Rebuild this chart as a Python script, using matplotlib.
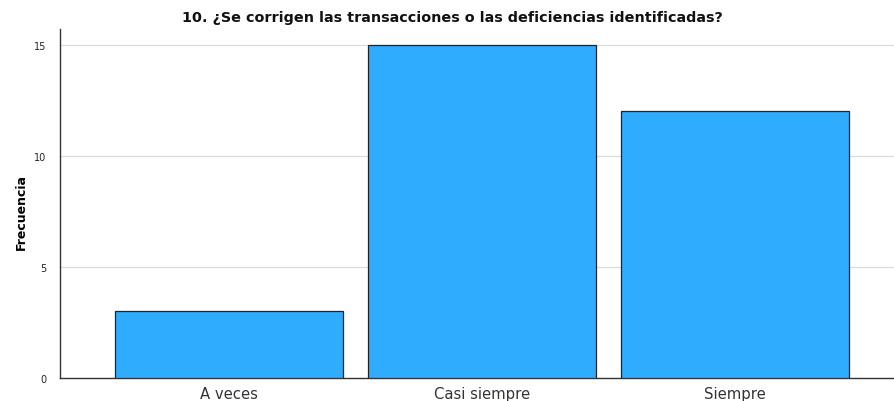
import matplotlib
matplotlib.use('Agg')
import matplotlib.pyplot as plt

# data
categories = ['A veces', 'Casi siempre', 'Siempre']
frecuencia = [3, 15, 12]
yticks = [0, 5, 10, 15]

fig = plt.figure(figsize=(8.95, 4.02), dpi=100, facecolor='white')
ax = fig.add_axes([0.067, 0.057, 0.933, 0.868])

x = range(len(categories))
ax.bar(x, frecuencia, width=0.9, color='#30acff', edgecolor='#222222', linewidth=0.9, zorder=3)

ax.set_xlim(-0.668, 2.632)
ax.set_ylim(0, 15.7)
ax.set_yticks(yticks)
ax.set_yticklabels([str(v) for v in yticks], fontsize=7, color='#222222')
ax.set_xticks(list(x))
ax.set_xticklabels(categories, fontsize=10.7, color='#333333')
ax.tick_params(axis='both', length=0, pad=6)
ax.tick_params(axis='y', pad=10)
ax.grid(axis='y', color='#d9d9d9', linewidth=0.8, zorder=0)

for s in ['top', 'right']:
    ax.spines[s].set_visible(False)
ax.spines['left'].set_color('#333333')
ax.spines['bottom'].set_color('#333333')
ax.spines['left'].set_linewidth(1.0)
ax.spines['bottom'].set_linewidth(1.0)

ax.set_ylabel('Frecuencia', fontsize=9, fontweight='bold',
              family=['Liberation Sans Narrow', 'DejaVu Sans'])
ax.yaxis.set_label_coords(-0.038, 0.48)
fig.text(0.505, 0.955, '10. ¿Se corrigen las transacciones o las deficiencias identificadas?',
         ha='center', va='center', fontsize=10.4, fontweight='bold', color='#111111')

fig.savefig('out.png', dpi=100, facecolor='white')
